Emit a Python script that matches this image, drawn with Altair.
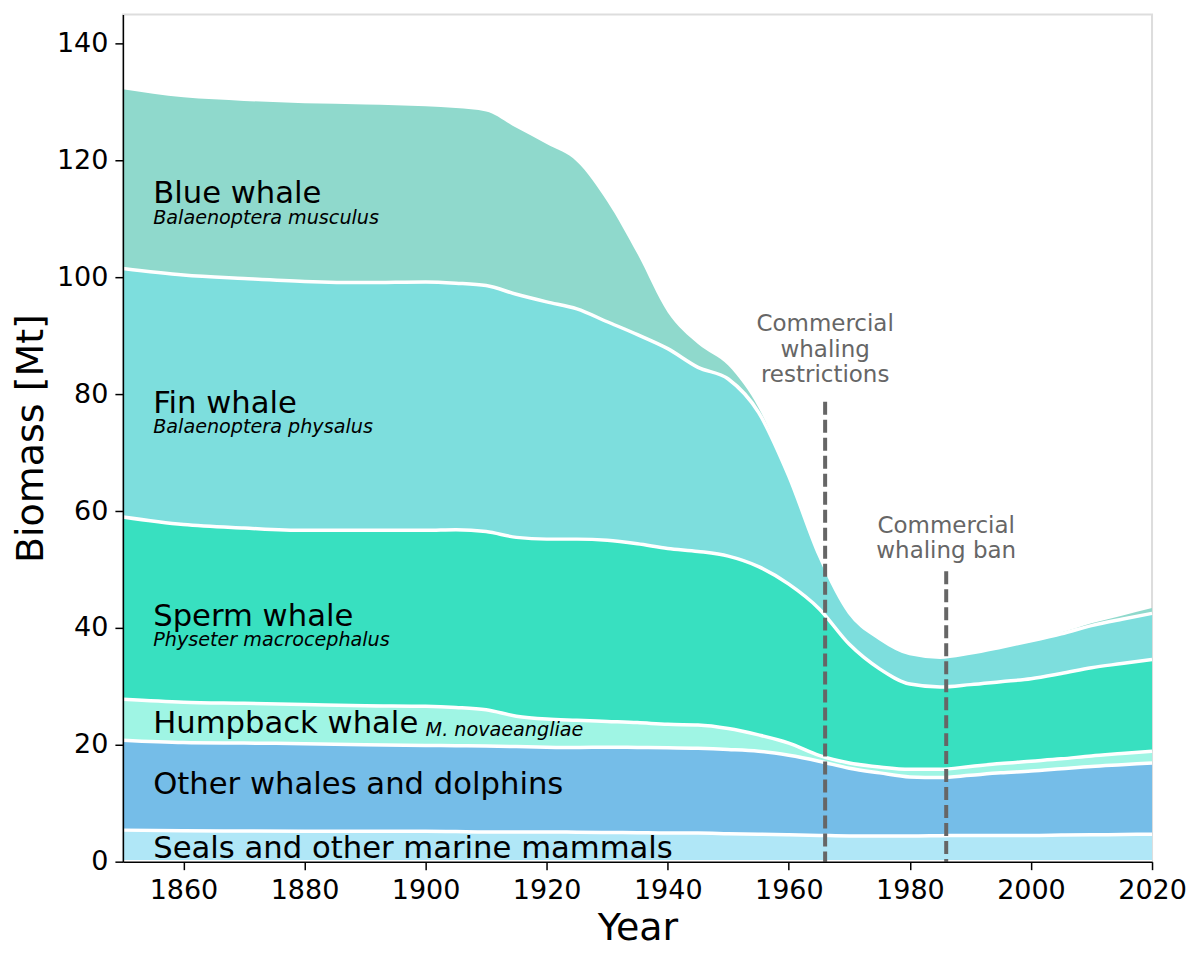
import altair as alt
import pandas as pd

# ---------------- data (Mt of biomass per group) ----------------
years = [1850, 1860, 1870, 1880, 1890, 1900, 1905, 1910, 1915, 1920, 1925, 1930,
         1935, 1940, 1945, 1950, 1955, 1960, 1965, 1970, 1975, 1980, 1985, 1990,
         1995, 2000, 2005, 2010, 2015, 2020]

seals = [5.4, 5.3, 5.25, 5.2, 5.2, 5.2, 5.15, 5.1, 5.1, 5.1, 5.05, 5.0,
         4.95, 4.9, 4.9, 4.8, 4.7, 4.6, 4.5, 4.4, 4.4, 4.4, 4.45, 4.5,
         4.5, 4.5, 4.55, 4.6, 4.65, 4.7]
other = [15.4, 15.1, 15.05, 15.0, 14.8, 14.7, 14.7, 14.7, 14.6, 14.5, 14.5, 14.6,
         14.6, 14.6, 14.5, 14.4, 14.2, 13.6, 12.7, 11.6, 10.8, 10.1, 9.95, 10.3,
         10.7, 11.0, 11.35, 11.7, 11.95, 12.2]
humpback = [7.0, 6.9, 6.8, 6.7, 6.7, 6.7, 6.55, 6.2, 5.2, 4.8, 4.65, 4.4,
            4.25, 4.0, 4.0, 3.6, 2.8, 2.1, 1.0, 0.9, 1.0, 1.3, 1.4, 1.5,
            1.6, 1.7, 1.7, 1.8, 1.9, 2.0]
sperm = [31.2, 30.4, 30.0, 29.8, 30.0, 30.1, 30.4, 30.5, 30.6, 30.8, 31.0, 31.0,
         30.6, 30.1, 29.7, 29.5, 28.8, 27.2, 25.1, 20.3, 16.8, 14.6, 14.1, 14.0,
         14.0, 14.1, 14.6, 15.1, 15.4, 15.7]
fin = [42.5, 42.7, 42.7, 42.6, 42.4, 42.5, 42.2, 42.1, 41.6, 40.6, 39.4, 37.4,
       35.8, 34.2, 31.5, 30.3, 26.4, 18.5, 9.2, 5.4, 5.2, 5.2, 5.1, 5.4,
       5.9, 6.5, 6.8, 7.2, 7.6, 7.9]
blue = [30.7, 30.4, 30.4, 30.5, 30.5, 30.1, 30.0, 29.8, 28.5, 27.0, 25.2, 20.6,
        13.8, 6.2, 4.0, 2.3, 0.8, 0.1, 0.0, 0.0, 0.0, 0.0, 0.0, 0.0,
        0.0, 0.0, 0.2, 0.4, 0.6, 0.9]

species = ["Seals and other marine mammals", "Other whales and dolphins",
           "Humpback whale", "Sperm whale", "Fin whale", "Blue whale"]
series = [seals, other, humpback, sperm, fin, blue]
colors = ["#b0e7f7", "#75bde8", "#9ff5e4", "#38e0c0", "#7ddedd", "#8fd9cc"]

# label texts
main_labels = ["Blue whale", "Fin whale", "Sperm whale", "Humpback whale",
               "Other whales and dolphins", "Seals and other marine mammals"]
main_label_x = [1855, 1855, 1855, 1855, 1855, 1855]
main_label_y = [112.75, 76.8, 40.3, 22.1, 11.5, 0.6]

latin_labels = ["Balaenoptera musculus", "Balaenoptera physalus",
                "Physeter macrocephalus", "M. novaeangliae"]
latin_label_x = [1855, 1855, 1855, 1900]
latin_label_y = [109.2, 73.3, 36.9, 21.5]

event_years = [1966, 1986]
event_tops = [78.7, 49.7]
event_texts = ["Commercial\nwhaling\nrestrictions", "Commercial\nwhaling ban"]
event_text_y = [90.8, 56.3]

# ---------------- tables ----------------
rows = []
for i, yr in enumerate(years):
    base = 0.0
    for k, (name, vals) in enumerate(zip(species, series)):
        rows.append({"year": yr, "species": name, "order": k,
                     "lo": base, "hi": base + vals[i]})
        base += vals[i]
df = pd.DataFrame(rows)

line_rows = []
for r in rows:
    if r["species"] != "Blue whale":
        line_rows.append({"year": r["year"], "boundary": r["species"], "val": r["hi"]})
    if r["species"] == species[0]:
        line_rows.append({"year": r["year"], "boundary": "base", "val": r["lo"]})
lines_df = pd.DataFrame(line_rows)

main_df = pd.DataFrame({"text": main_labels, "x": main_label_x, "y": main_label_y})
latin_df = pd.DataFrame({"text": latin_labels, "x": latin_label_x, "y": latin_label_y})
event_df = pd.DataFrame({"year": event_years, "top": event_tops, "bottom": [0, 0],
                         "text": event_texts, "ty": event_text_y})

# ---------------- encodings ----------------
x_scale = alt.Scale(domain=[1850, 2020], nice=False, zero=False)
y_scale = alt.Scale(domain=[0, 145], nice=False, zero=True)

x_axis = alt.Axis(values=list(range(1860, 2021, 20)), format="d", title="Year",
                  labelPadding=8, titlePadding=6, zindex=1, labelFlush=False)
y_axis = alt.Axis(values=list(range(0, 141, 20)), format="d", title="Biomass [Mt]",
                  labelPadding=7, titlePadding=6, zindex=1, labelFlush=False)

areas = alt.Chart(df).mark_area(interpolate="monotone").encode(
    x=alt.X("year:Q", scale=x_scale, axis=x_axis),
    y=alt.Y("hi:Q", scale=y_scale, axis=y_axis),
    y2="lo:Q",
    color=alt.Color("species:N", scale=alt.Scale(domain=species, range=colors), legend=None),
    detail="species:N",
)

lines = alt.Chart(lines_df).mark_line(interpolate="monotone", color="white",
                                       strokeWidth=3.5).encode(
    x=alt.X("year:Q", scale=x_scale),
    y=alt.Y("val:Q", scale=y_scale),
    detail="boundary:N",
)

rules = alt.Chart(event_df).mark_rule(color="#666666", strokeWidth=4,
                                      strokeDash=[13, 5]).encode(
    x=alt.X("year:Q", scale=x_scale),
    y=alt.Y("top:Q", scale=y_scale),
    y2="bottom:Q",
)

event_text = alt.Chart(event_df).mark_text(
    align="center", baseline="alphabetic", fontSize=23, color="#666666",
    lineBreak="\n", lineHeight=25.5,
).encode(
    x=alt.X("year:Q", scale=x_scale),
    y=alt.Y("ty:Q", scale=y_scale),
    text="text:N",
)

main_text = alt.Chart(main_df).mark_text(
    align="left", baseline="alphabetic", fontSize=30.7, color="black",
).encode(
    x=alt.X("x:Q", scale=x_scale),
    y=alt.Y("y:Q", scale=y_scale),
    text="text:N",
)

latin_text = alt.Chart(latin_df).mark_text(
    align="left", baseline="alphabetic", fontSize=19.2, fontStyle="italic", color="black",
).encode(
    x=alt.X("x:Q", scale=x_scale),
    y=alt.Y("y:Q", scale=y_scale),
    text="text:N",
)

chart = alt.layer(areas, lines, rules, event_text, main_text, latin_text).properties(
    width=1030,
    height=848,
    autosize=alt.AutoSizeParams(type="none"),
    padding={"left": 115, "top": 6, "right": 40, "bottom": 92},
).configure(
    font="DejaVu Sans",
).configure_view(
    stroke="#dddddd", strokeWidth=2,
).configure_axis(
    grid=False,
    domainColor="black", domainWidth=1.5,
    tickColor="black", tickWidth=1.5, tickSize=8,
    labelFontSize=27, labelColor="black",
    titleFontSize=38, titleFontWeight="normal", titleColor="black",
)

chart.save("out.html", embed_options={"renderer": "svg", "actions": False})
